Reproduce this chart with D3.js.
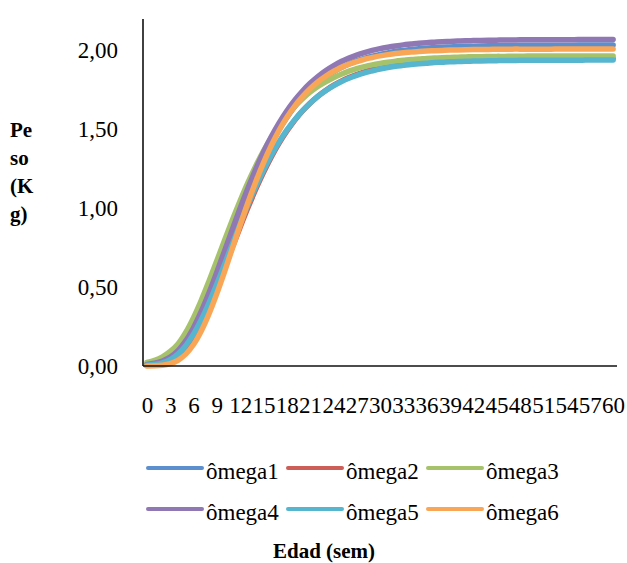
<!DOCTYPE html>
<html>
<head>
<meta charset="utf-8">
<script src="https://cdn.jsdelivr.net/npm/d3@7"></script>
<style>
  html, body { margin: 0; padding: 0; background: #fff; }
  svg { display: block; }
  text { font-family: "Liberation Serif", "Times New Roman", serif; fill: #000; }
</style>
</head>
<body>
<svg id="chart" width="627" height="563"></svg>
<script>
// ---- data ----
const weeks = d3.range(0, 61);
const xTickLabels = [0,3,6,9,12,15,18,21,24,27,30,33,36,39,42,45,48,51,54,57,60];
const yTickValues = [0, 0.5, 1.0, 1.5, 2.0];
const seriesNames = ["ômega1","ômega2","ômega3","ômega4","ômega5","ômega6"];
const seriesColors = ["#5B8FCD","#CD5E57","#A6C36B","#8F78B4","#56B6D0","#FAA657"];

const omega1 = [0.005,0.010,0.022,0.045,0.084,0.143,0.221,0.318,0.432,0.558,0.690,0.825,0.957,1.084,1.202,1.311,1.410,1.498,1.575,1.643,1.702,1.753,1.796,1.834,1.865,1.892,1.915,1.934,1.951,1.964,1.976,1.985,1.994,2.000,2.006,2.011,2.015,2.018,2.021,2.023,2.025,2.027,2.028,2.029,2.030,2.031,2.032,2.032,2.033,2.033,2.033,2.034,2.034,2.034,2.034,2.034,2.035,2.035,2.035,2.035,2.035];
const omega2 = [0.004,0.008,0.017,0.035,0.068,0.118,0.187,0.275,0.380,0.498,0.623,0.752,0.880,1.003,1.119,1.226,1.324,1.411,1.488,1.556,1.615,1.666,1.710,1.747,1.779,1.806,1.829,1.848,1.865,1.879,1.890,1.900,1.908,1.915,1.921,1.925,1.929,1.933,1.936,1.938,1.940,1.942,1.943,1.944,1.945,1.946,1.947,1.947,1.948,1.948,1.948,1.949,1.949,1.949,1.949,1.949,1.949,1.949,1.950,1.950,1.950];
const omega3 = [0.022,0.036,0.058,0.092,0.140,0.213,0.307,0.417,0.539,0.667,0.797,0.925,1.047,1.162,1.267,1.362,1.447,1.522,1.587,1.644,1.693,1.736,1.772,1.802,1.828,1.850,1.869,1.885,1.898,1.909,1.918,1.926,1.933,1.938,1.943,1.946,1.950,1.952,1.955,1.956,1.958,1.959,1.961,1.961,1.962,1.963,1.963,1.964,1.964,1.965,1.965,1.965,1.965,1.965,1.965,1.966,1.966,1.966,1.966,1.966,1.966];
const omega4 = [0.010,0.018,0.032,0.056,0.097,0.159,0.243,0.346,0.464,0.594,0.730,0.866,1.000,1.127,1.246,1.355,1.453,1.540,1.617,1.684,1.742,1.792,1.835,1.872,1.903,1.930,1.952,1.971,1.987,2.001,2.012,2.021,2.029,2.036,2.041,2.046,2.050,2.053,2.056,2.058,2.060,2.062,2.063,2.064,2.065,2.066,2.067,2.067,2.068,2.068,2.068,2.069,2.069,2.069,2.069,2.069,2.070,2.070,2.070,2.070,2.070];
const omega5 = [0.005,0.009,0.020,0.041,0.076,0.129,0.202,0.293,0.400,0.519,0.645,0.774,0.900,1.021,1.135,1.240,1.335,1.420,1.495,1.560,1.617,1.666,1.709,1.745,1.776,1.802,1.824,1.842,1.858,1.871,1.883,1.892,1.900,1.906,1.912,1.916,1.920,1.924,1.926,1.929,1.930,1.932,1.933,1.934,1.935,1.936,1.937,1.937,1.938,1.938,1.938,1.939,1.939,1.939,1.939,1.939,1.939,1.940,1.940,1.940,1.940];
const omega6 = [0.000,0.001,0.005,0.015,0.036,0.075,0.136,0.222,0.331,0.459,0.599,0.746,0.893,1.035,1.167,1.288,1.396,1.492,1.575,1.646,1.706,1.758,1.801,1.837,1.867,1.892,1.913,1.930,1.945,1.956,1.966,1.974,1.981,1.986,1.990,1.994,1.997,1.999,2.001,2.003,2.004,2.005,2.006,2.007,2.007,2.008,2.008,2.009,2.009,2.009,2.009,2.009,2.009,2.010,2.010,2.010,2.010,2.010,2.010,2.010,2.010];

const seriesValues = [omega1, omega2, omega3, omega4, omega5, omega6];

// ---- layout ----
const svg = d3.select("#chart");
const plot = { left: 143, right: 617, top: 19, bottom: 366 };

const x = d3.scalePoint().domain(weeks).range([plot.left, plot.right]).padding(0.5);
const y = d3.scaleLinear().domain([0, 2.2]).range([plot.bottom, plot.top]);

// series lines (drawn in order, last on top)
const line = d3.line()
  .x((d, i) => x(weeks[i]))
  .y(d => y(d))
  .curve(d3.curveCatmullRom);

svg.append("g").selectAll("path")
  .data(seriesValues)
  .join("path")
  .attr("d", d => line(d))
  .attr("fill", "none")
  .attr("stroke", (d, i) => seriesColors[i])
  .attr("stroke-width", 5.5)
  .attr("stroke-linecap", "round")
  .attr("stroke-linejoin", "round");

// axes
const fmt = v => d3.format(".2f")(v).replace(".", ",");
const yAxis = svg.append("g")
  .attr("transform", `translate(${plot.left},0)`)
  .call(d3.axisLeft(y).tickValues(yTickValues).tickFormat(fmt).tickSize(0).tickPadding(25));
yAxis.select(".domain").attr("stroke", "#111").attr("stroke-width", 1.6)
  .attr("d", `M0,${plot.bottom}V${plot.top}`);
yAxis.selectAll("text").attr("font-size", 23).attr("font-family", "Liberation Serif");

const xAxis = svg.append("g")
  .attr("transform", `translate(0,${plot.bottom})`)
  .call(d3.axisBottom(x).tickValues(xTickLabels).tickSize(0).tickPadding(31));
xAxis.select(".domain").attr("stroke", "#111").attr("stroke-width", 1.6)
  .attr("d", `M${plot.left},0H${plot.right}`);
xAxis.selectAll("text").attr("font-size", 23).attr("font-family", "Liberation Serif");

// y-axis title (wrapped)
const yTitleLines = ["Pe", "so", "(K", "g)"];
svg.append("g").selectAll("text")
  .data(yTitleLines)
  .join("text")
  .attr("x", 10)
  .attr("y", (d, i) => 137 + i * 28)
  .attr("font-size", 21)
  .attr("font-weight", "bold")
  .text(d => d);

// legend
const legendCols = [148, 288, 428];
const legendRows = [468, 509];
const lg = svg.append("g");
seriesNames.forEach((name, i) => {
  const cx = legendCols[i % 3];
  const cy = legendRows[Math.floor(i / 3)];
  lg.append("line")
    .attr("x1", cx).attr("x2", cx + 54)
    .attr("y1", cy).attr("y2", cy)
    .attr("stroke", seriesColors[i])
    .attr("stroke-width", 4)
    .attr("stroke-linecap", "round");
  lg.append("text")
    .attr("x", cx + 58)
    .attr("y", cy + 11)
    .attr("font-size", 23)
    .text(name);
});

// x-axis title
svg.append("text")
  .attr("x", 324)
  .attr("y", 558)
  .attr("text-anchor", "middle")
  .attr("font-size", 21)
  .attr("font-weight", "bold")
  .text("Edad (sem)");
</script>
</body>
</html>
